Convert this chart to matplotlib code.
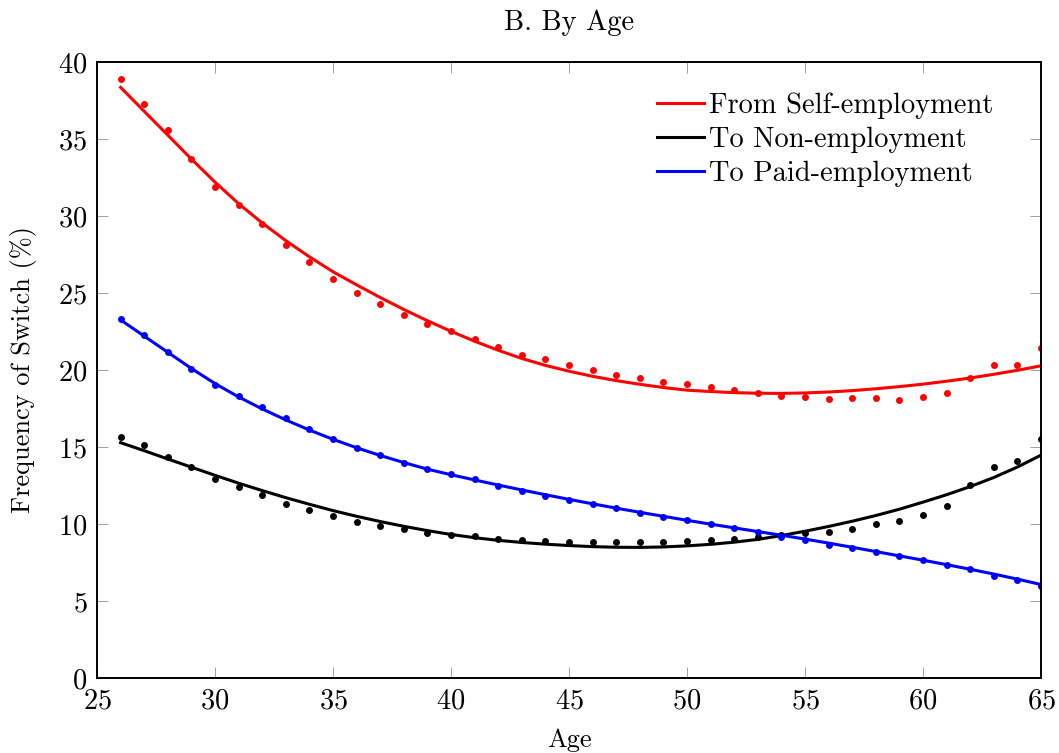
import numpy as np
import matplotlib
matplotlib.use("Agg")
import matplotlib.pyplot as plt

# ── data ──────────────────────────────────────────────────────
ages = np.arange(26, 66)

# age means (dots)
from_self = [38.9, 37.3, 35.6, 33.7, 31.9, 30.7, 29.5, 28.1, 27.0, 25.9,
             25.0, 24.3, 23.6, 23.0, 22.5, 22.0, 21.5, 21.0, 20.7, 20.3,
             20.0, 19.7, 19.5, 19.2, 19.1, 18.9, 18.7, 18.5, 18.3, 18.25,
             18.1, 18.15, 18.15, 18.05, 18.25, 18.5, 19.5, 20.3, 20.35, 21.45]

to_nonemp = [15.65, 15.1, 14.35, 13.7, 12.9, 12.4, 11.9, 11.3, 10.9, 10.5,
             10.15, 9.85, 9.65, 9.4, 9.3, 9.2, 9.05, 8.95, 8.9, 8.85,
             8.8, 8.8, 8.8, 8.85, 8.9, 8.95, 9.05, 9.15, 9.3, 9.4,
             9.5, 9.7, 9.98, 10.2, 10.6, 11.2, 12.5, 13.7, 14.1, 15.5]

to_paid = [23.3, 22.3, 21.2, 20.05, 19.05, 18.3, 17.6, 16.87, 16.15, 15.5,
           14.93, 14.48, 13.98, 13.57, 13.25, 12.9, 12.49, 12.16, 11.84, 11.56,
           11.3, 11.02, 10.74, 10.48, 10.24, 10.0, 9.72, 9.46, 9.18, 8.96,
           8.64, 8.42, 8.2, 7.92, 7.66, 7.36, 7.06, 6.62, 6.34, 5.99]

# fitted curves, read at each age
fit_self = [38.35, 36.8, 35.25, 33.7, 32.2, 30.8, 29.55, 28.4, 27.35, 26.38,
            25.53, 24.71, 23.93, 23.2, 22.51, 21.87, 21.28, 20.75, 20.3, 19.92,
            19.59, 19.31, 19.07, 18.86, 18.69, 18.6, 18.53, 18.49, 18.48, 18.51,
            18.57, 18.66, 18.78, 18.92, 19.08, 19.27, 19.48, 19.72, 19.98, 20.27]

fit_nonemp = [15.28, 14.76, 14.22, 13.69, 13.16, 12.65, 12.17, 11.71, 11.28, 10.87,
              10.5, 10.16, 9.85, 9.57, 9.32, 9.11, 8.94, 8.8, 8.69, 8.6,
              8.53, 8.49, 8.48, 8.51, 8.58, 8.68, 8.82, 9.0, 9.25, 9.53,
              9.84, 10.18, 10.55, 10.96, 11.42, 11.9, 12.43, 13.02, 13.7, 14.47]

fit_paid = [23.25, 22.2, 21.15, 20.1, 19.12, 18.25, 17.47, 16.76, 16.1, 15.5,
            14.95, 14.45, 13.99, 13.56, 13.2, 12.86, 12.53, 12.21, 11.9, 11.6,
            11.31, 11.03, 10.76, 10.5, 10.24, 9.99, 9.75, 9.51, 9.27, 9.02,
            8.76, 8.49, 8.21, 7.93, 7.65, 7.36, 7.06, 6.75, 6.42, 6.07]

series = [
    ("From Self-employment", from_self, fit_self, "#ff0000"),
    ("To Non-employment", to_nonemp, fit_nonemp, "#000000"),
    ("To Paid-employment", to_paid, fit_paid, "#0000ff"),
]

plt.rcParams['font.family'] = ['cmr10', 'DejaVu Serif']
plt.rcParams['axes.formatter.use_mathtext'] = True
plt.rcParams['mathtext.fontset'] = 'cm'

fig = plt.figure(figsize=(10.59, 7.53), dpi=100)
ax = fig.add_axes([0.0916, 0.0996, 0.8914, 0.8181])

for label, vals, fit, col in series:
    ax.plot(ages, fit, color=col, lw=2.2, label=label, solid_joinstyle='round')
    ax.plot(ages, vals, 'o', color=col, ms=5, mec='none')

ax.set_xlim(25, 65)
ax.set_ylim(0, 40)
ax.set_xticks(np.arange(25, 66, 5))
ax.set_yticks(np.arange(0, 41, 5))
ax.tick_params(direction='in', length=7.7, width=0.7, color='#a0a0a0',
               top=True, right=True, labelsize=20.5, pad=7)
for s in ax.spines.values():
    s.set_linewidth(1.4)

ax.set_xlabel("Age", fontsize=19, labelpad=10)
ax.set_ylabel("Frequency of Switch (%)", fontsize=19, labelpad=15)
ax.set_title("B. By Age", fontsize=20.5, pad=23)

ax.legend(loc='upper right', frameon=False, fontsize=20.5, handlelength=1.65,
          handletextpad=0.2, labelspacing=0.27, borderaxespad=0.5,
          bbox_to_anchor=(0.977, 0.992))

fig.savefig("out.png", dpi=100)
